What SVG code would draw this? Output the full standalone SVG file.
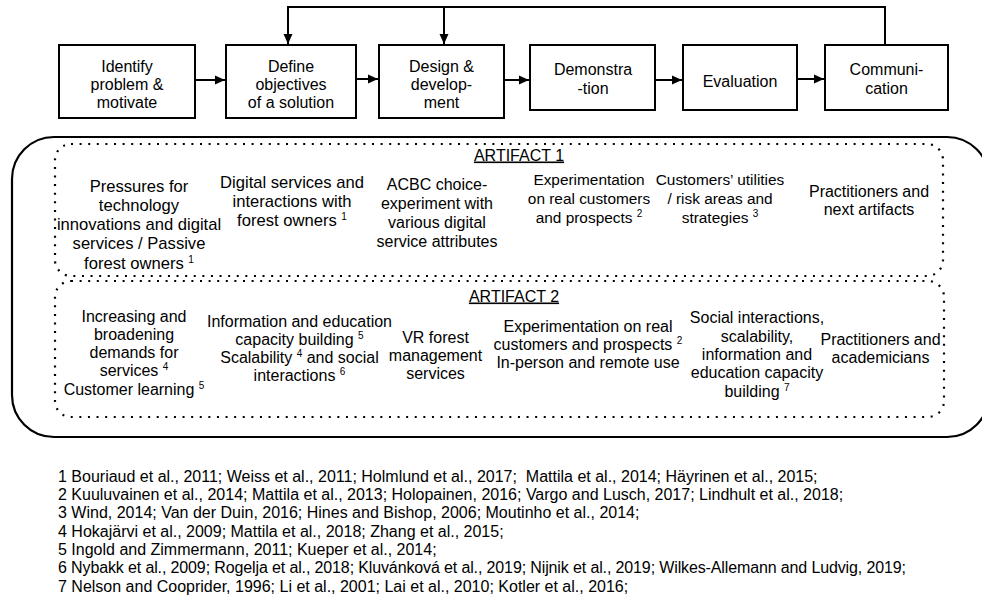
<svg xmlns="http://www.w3.org/2000/svg" width="982" height="596" viewBox="0 0 982 596">
<style>
text{font-family:"Liberation Sans",Arial,sans-serif;font-size:16px;fill:#000}
.c{text-anchor:middle}
.box{fill:#fff;stroke:#000;stroke-width:2}
.ln{fill:none;stroke:#000;stroke-width:2}
.dot{fill:none;stroke:#000;stroke-width:2.2;stroke-dasharray:2 6.6}
.sup{font-size:10px}
.u{text-decoration:underline}
.big{font-size:16.6px}
.sm{font-size:15.4px}
</style>
<defs>
<marker id="ah" markerUnits="userSpaceOnUse" markerWidth="10" markerHeight="10" refX="10" refY="5" orient="auto">
<path d="M0,0.5 L10,5 L0,9.5 z" fill="#000"/>
</marker>
</defs>
<rect width="982" height="596" fill="#fff"/>

<g id="connectors">
<line class="ln" x1="195" y1="80" x2="225" y2="80" marker-end="url(#ah)"/>
<line class="ln" x1="356" y1="79" x2="378" y2="79" marker-end="url(#ah)"/>
<line class="ln" x1="504" y1="80" x2="529" y2="80" marker-end="url(#ah)"/>
<line class="ln" x1="655" y1="80" x2="682" y2="80" marker-end="url(#ah)"/>
<line class="ln" x1="797" y1="79" x2="824" y2="79" marker-end="url(#ah)"/>
<path class="ln" d="M885,45 V7 H288 V44" marker-end="url(#ah)"/>
<line class="ln" x1="444" y1="7" x2="444" y2="44" marker-end="url(#ah)"/>
</g>

<g id="n1"><rect class="box" x="59" y="45" width="136" height="73"/>
<text class="c" x="127" y="71.5">Identify</text><text class="c" x="127" y="89.5">problem &amp;</text><text class="c" x="127" y="107.5">motivate</text></g>
<g id="n2"><rect class="box" x="226" y="45" width="130" height="73"/>
<text class="c" x="291" y="71.5">Define</text><text class="c" x="291" y="89.5">objectives</text><text class="c" x="291" y="107.5">of a solution</text></g>
<g id="n3"><rect class="box" x="379" y="45" width="125" height="73"/>
<text class="c" x="441.5" y="71.5">Design &amp;</text><text class="c" x="441.5" y="89.5">develop-</text><text class="c" x="441.5" y="107.5">ment</text></g>
<g id="n4"><rect class="box" x="530" y="45" width="125" height="65"/>
<text class="c" x="593" y="75">Demonstra</text><text class="c" x="593" y="93.5">-tion</text></g>
<g id="n5"><rect class="box" x="683" y="45" width="114" height="65"/>
<text class="c" x="740" y="86.5">Evaluation</text></g>
<g id="n6"><rect class="box" x="825" y="45" width="123" height="65"/>
<text class="c" x="886.5" y="75">Communi-</text><text class="c" x="886.5" y="93.5">cation</text></g>

<g id="frame"><rect x="12" y="137" width="977" height="300" rx="42" ry="42" fill="none" stroke="#000" stroke-width="2.2"/></g>

<g id="artifact1">
<rect class="dot" x="55" y="144" width="888" height="132" rx="16" ry="16"/>
<text class="c u" x="519" y="160.5">ARTIFACT 1</text>
<text class="c big"><tspan x="139" y="191.5">Pressures for</tspan><tspan x="139" y="210.8">technology</tspan><tspan x="139" y="230.1">innovations and digital</tspan><tspan x="139" y="249.4">services / Passive</tspan><tspan x="139" y="268.7">forest owners <tspan class="sup" dy="-6">1</tspan></tspan></text>
<text class="c big"><tspan x="292" y="188">Digital services and</tspan><tspan x="292" y="207">interactions with</tspan><tspan x="292" y="226">forest owners <tspan class="sup" dy="-6">1</tspan></tspan></text>
<text class="c"><tspan x="437" y="190">ACBC choice-</tspan><tspan x="437" y="209">experiment with</tspan><tspan x="437" y="228">various digital</tspan><tspan x="437" y="247">service attributes</tspan></text>
<text class="c sm"><tspan x="589" y="185">Experimentation</tspan><tspan x="589" y="204">on real customers</tspan><tspan x="589" y="223">and prospects <tspan class="sup" dy="-6">2</tspan></tspan></text>
<text class="c sm"><tspan x="720" y="185">Customers’ utilities</tspan><tspan x="720" y="204">/ risk areas and</tspan><tspan x="720" y="223">strategies <tspan class="sup" dy="-6">3</tspan></tspan></text>
<text class="c"><tspan x="869" y="196.5">Practitioners and</tspan><tspan x="869" y="215">next artifacts</tspan></text>
</g>

<g id="artifact2">
<rect class="dot" x="55" y="281" width="889" height="136" rx="16" ry="16"/>
<text class="c u" x="514" y="301.5">ARTIFACT 2</text>
<text class="c"><tspan x="134" y="321.5">Increasing and</tspan><tspan x="134" y="339.8">broadening</tspan><tspan x="134" y="358">demands for</tspan><tspan x="134" y="376.3">services <tspan class="sup" dy="-6">4</tspan></tspan><tspan x="134" y="394.5">Customer learning <tspan class="sup" dy="-6">5</tspan></tspan></text>
<text class="c"><tspan x="299.5" y="326.5">Information and education</tspan><tspan x="299.5" y="344.8">capacity building <tspan class="sup" dy="-6">5</tspan></tspan><tspan x="299.5" y="363.1">Scalability <tspan class="sup" dy="-6">4</tspan><tspan dy="6"> and social</tspan></tspan><tspan x="299.5" y="381.4">interactions <tspan class="sup" dy="-6">6</tspan></tspan></text>
<text class="c"><tspan x="435.5" y="342.7">VR forest</tspan><tspan x="435.5" y="361">management</tspan><tspan x="435.5" y="379.3">services</tspan></text>
<text class="c"><tspan x="588" y="331.7">Experimentation on real</tspan><tspan x="588" y="350">customers and prospects <tspan class="sup" dy="-6">2</tspan></tspan><tspan x="588" y="368.3">In-person and remote use</tspan></text>
<text class="c"><tspan x="757" y="323.3">Social interactions,</tspan><tspan x="757" y="341.6">scalability,</tspan><tspan x="757" y="359.9">information and</tspan><tspan x="757" y="378.2">education capacity</tspan><tspan x="757" y="396.5">building <tspan class="sup" dy="-6">7</tspan></tspan></text>
<text class="c"><tspan x="880.5" y="345">Practitioners and</tspan><tspan x="880.5" y="363.3">academicians</tspan></text>
</g>

<g id="footnotes">
<text x="58" y="481.5">1 Bouriaud et al., 2011; Weiss et al., 2011; Holmlund et al., 2017;&#160; Mattila et al., 2014; Häyrinen et al., 2015;</text>
<text x="58" y="499.8">2 Kuuluvainen et al., 2014; Mattila et al., 2013; Holopainen, 2016; Vargo and Lusch, 2017; Lindhult et al., 2018;</text>
<text x="58" y="518.2">3 Wind, 2014; Van der Duin, 2016; Hines and Bishop, 2006; Moutinho et al., 2014;</text>
<text x="58" y="536.5">4 Hokajärvi et al., 2009; Mattila et al., 2018; Zhang et al., 2015;</text>
<text x="58" y="554.9">5 Ingold and Zimmermann, 2011; Kueper et al., 2014;</text>
<text x="58" y="573.2" textLength="848">6 Nybakk et al., 2009; Rogelja et al., 2018; Kluvánková et al., 2019; Nijnik et al., 2019; Wilkes-Allemann and Ludvig, 2019;</text>
<text x="58" y="591.5">7 Nelson and Cooprider, 1996; Li et al., 2001; Lai et al., 2010; Kotler et al., 2016;</text>
</g>
</svg>
